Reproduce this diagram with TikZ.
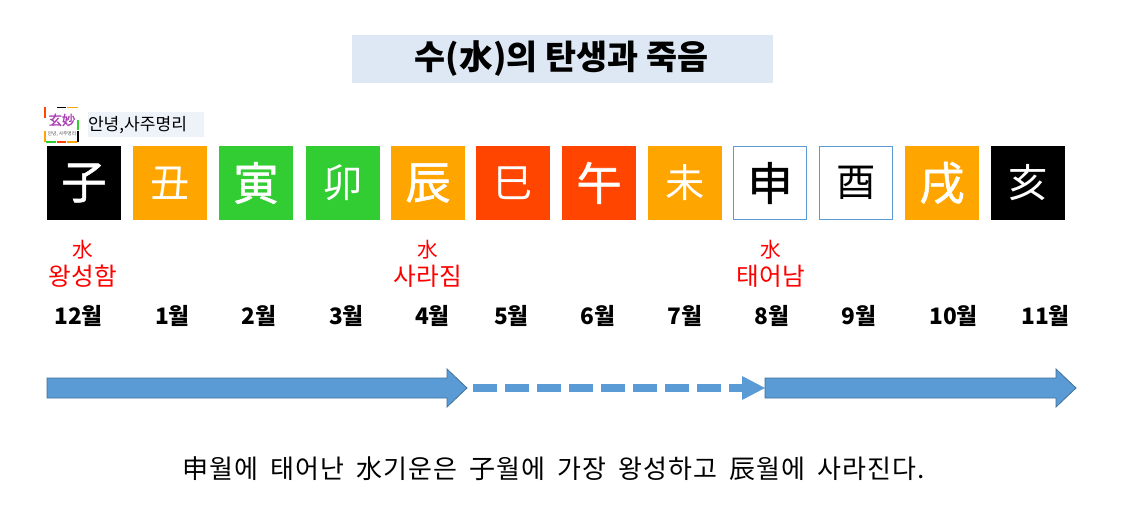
\documentclass[tikz,border=0pt]{standalone}
\usepackage{fontspec}
\setmainfont{Noto Sans CJK KR}
\newfontfamily\hanm[FakeBold=1.2]{Noto Sans CJK KR}
\definecolor{blk}{HTML}{000000}
\definecolor{org}{HTML}{FFA500}
\definecolor{grn}{HTML}{32CD32}
\definecolor{rd}{HTML}{FF4500}
\definecolor{arrowblue}{HTML}{5B9BD5}
\definecolor{arrowedge}{HTML}{41719C}
\definecolor{titlebg}{HTML}{DEE8F4}
\definecolor{tagbg}{HTML}{EEF3FA}
\tikzset{
 x=0.75pt,y=-0.75pt,
 every node/.style={inner sep=0,outer sep=0},
 boxn/.style={minimum width=55.5pt,minimum height=55.5pt,text=white},
 big/.style={font=\fontsize{34}{34}\selectfont\hanm},
 small/.style={font=\fontsize{29.5}{29.5}\selectfont},
 wt/.style={boxn,draw=arrowblue,line width=0.75pt,fill=white,text=black,minimum width=54.5pt,minimum height=54.5pt},
 month/.style={font=\fontsize{17}{17}\selectfont\bfseries,text=black},
 redt/.style={text=red,font=\fontsize{18.5}{18.5}\selectfont},
 redw/.style={text=red,font=\fontsize{15.5}{15.5}\selectfont},
 bigarrow/.style={fill=arrowblue,draw=arrowedge,line width=0.6pt},
}
\begin{document}
\begin{tikzpicture}
\useasboundingbox (0,0) rectangle (1121,513);
\fill[white] (0,0) rectangle (1121,513);
\node[fill=titlebg,minimum width=315.75pt,minimum height=36pt] (title) at (562.5,59) {};
\node[font=\fontsize{25.3}{25.3}\selectfont\bfseries] (titlet) at (561.5,59) {수(水)의 탄생과 죽음};
% tag
\node[fill=tagbg,minimum width=87pt,minimum height=18.75pt] (tag) at (146,125) {};
\node[font=\fontsize{12.8}{12.8}\selectfont,anchor=west] (tagt) at (88,125) {안녕,사주명리};
% logo
\fill[white] (44,107) rectangle (79,143);
\foreach \a/\b/\c/\d/\e in {
 57/107/66/108.5/blk, 67/107/78/108.5/org, 44/107/46/118/rd, 77/120/79/130/grn, 77/131/79/142/blk,
 44/131/46/142/org, 46/141.5/56/143/grn, 57/141.5/66/143/rd, 67/141.5/77/143/org}
 \fill[\e] (\a,\b) rectangle (\c,\d);
\node[font=\fontsize{10}{10}\selectfont\hanm,text={rgb,255:red,170;green,60;blue,180}] (logoa) at (62,120) {玄妙};
\node[font=\fontsize{3.5}{4}\selectfont,text=black!70] (logob) at (62,134) {안녕, 사주명리};
% cells
\node[boxn,fill=blk,big] (c1) at (84,183) {子};
\node[boxn,fill=org,small] (c2) at (170,183) {丑};
\node[boxn,fill=grn,big] (c3) at (256,183) {寅};
\node[boxn,fill=grn,small] (c4) at (343,183) {卯};
\node[boxn,fill=org,big] (c5) at (428,183) {辰};
\node[boxn,fill=rd,small] (c6) at (513,183) {巳};
\node[boxn,fill=rd,big] (c7) at (599,183) {午};
\node[boxn,fill=org,small] (c8) at (685,183) {未};
\node[wt,big] (c9) at (770,183) {申};
\node[wt,small] (c10) at (856,183) {酉};
\node[boxn,fill=org,big] (c11) at (942,183) {戌};
\node[boxn,fill=blk,small] (c12) at (1028,183) {亥};
% red
\node[redw] (w1) at (83,250) {水};
\node[redt] (r1) at (83,276) {왕성함};
\node[redw] (w2) at (428,250) {水};
\node[redt] (r2) at (428,276) {사라짐};
\node[redw] (w3) at (771,250) {水};
\node[redt] (r3) at (771,276) {태어남};
% months
\node[month] (m1) at (78.5,316) {12월};
\node[month] (m2) at (172.5,316) {1월};
\node[month] (m3) at (259,316) {2월};
\node[month] (m4) at (346.5,316) {3월};
\node[month] (m5) at (432.5,316) {4월};
\node[month] (m6) at (511.5,316) {5월};
\node[month] (m7) at (598,316) {6월};
\node[month] (m8) at (685,316) {7월};
\node[month] (m9) at (772,316) {8월};
\node[month] (m10) at (859,316) {9월};
\node[month] (m11) at (953.5,316) {10월};
\node[month] (m12) at (1045.5,316) {11월};
% arrows
\coordinate (a1s) at (47,388);
\coordinate (a1e) at (467,388);
\coordinate (a2s) at (473,388);
\coordinate (a2e) at (765,388);
\coordinate (a3s) at (765,388);
\coordinate (a3e) at (1076,388);
\draw[bigarrow] (a1s) ++(0,-10) -- (447,378) -- (447,369) -- (a1e) -- (447,407) -- (447,398) -- (47,398) -- cycle;
\draw[arrowblue,line width=6pt,dash pattern=on 18pt off 6pt] (a2s) -- (743,388);
\fill[arrowblue] (742,376) -- (a2e) -- (742,400) -- cycle;
\draw[bigarrow] (a3s) ++(0,-10) -- (1056,378) -- (1056,369) -- (a3e) -- (1056,407) -- (1056,398) -- (765,398) -- cycle;
% caption
\node[font=\fontsize{19.5}{19.5}\selectfont,text=black] (cap) at (553.5,469) {\addfontfeature{LetterSpace=4}申월에\hspace{4pt} 태어난\hspace{4pt} 水기운은\hspace{4pt} 子월에\hspace{4pt} 가장\hspace{4pt} 왕성하고\hspace{4pt} 辰월에\hspace{4pt} 사라진다.};
\end{tikzpicture}
\end{document}
